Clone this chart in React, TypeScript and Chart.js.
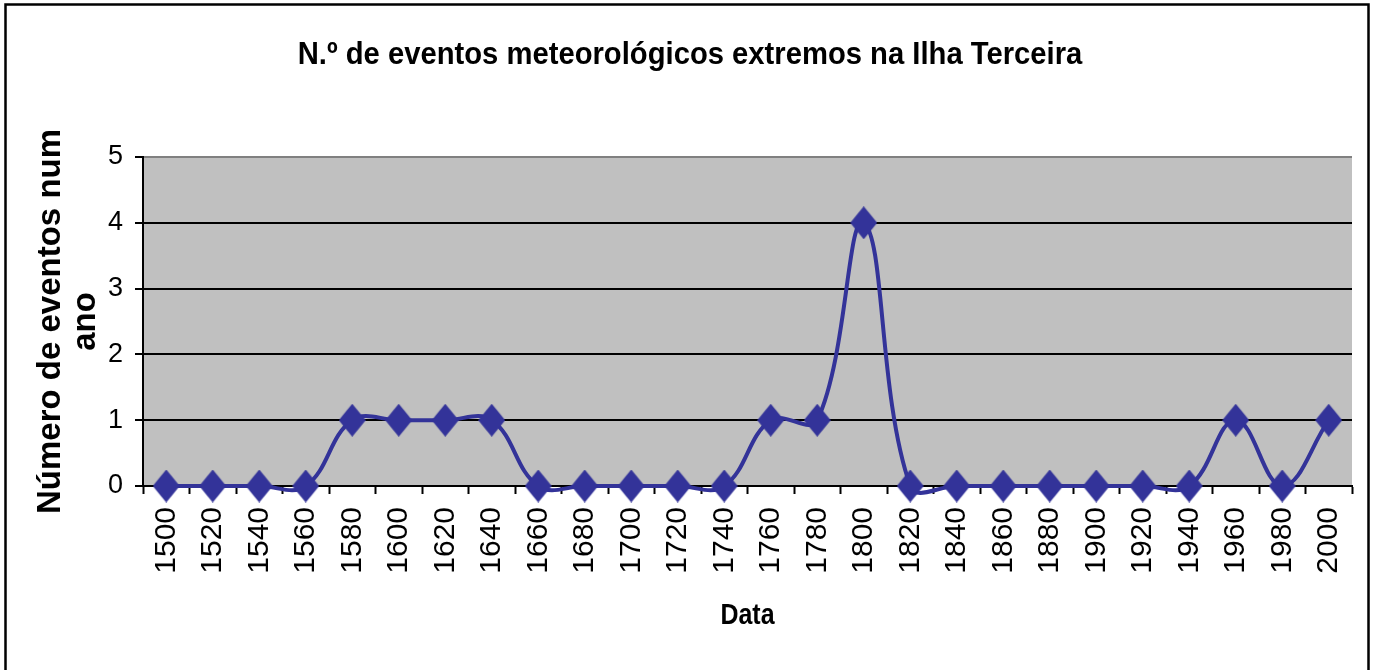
import React, { useEffect, useRef } from "react";
import { Chart, registerables } from "chart.js";

Chart.register(...registerables);

const TITLE = "N.º de eventos meteorológicos extremos na Ilha Terceira";
const Y_TITLE = ["Número de eventos num", "ano"];
const X_TITLE = "Data";

const years = [
  "1500", "1520", "1540", "1560", "1580", "1600", "1620", "1640", "1660",
  "1680", "1700", "1720", "1740", "1760", "1780", "1800", "1820", "1840",
  "1860", "1880", "1900", "1920", "1940", "1960", "1980", "2000",
];
const events = [0, 0, 0, 0, 1, 1, 1, 1, 0, 0, 0, 0, 0, 1, 1, 4, 0, 0, 0, 0, 0, 0, 0, 1, 0, 1];
const yMin = 0;
const yMax = 5;
const yStep = 1;

const LINE_COLOR = "#333399";
const SANS = '"Liberation Sans", Arial, sans-serif';

function makeDiamond(w: number, h: number, color: string): HTMLCanvasElement {
  const c = document.createElement("canvas");
  c.width = w;
  c.height = h;
  const g = c.getContext("2d")!;
  g.fillStyle = color;
  g.beginPath();
  g.moveTo(w / 2, 0);
  g.lineTo(w, h / 2);
  g.lineTo(w / 2, h);
  g.lineTo(0, h / 2);
  g.closePath();
  g.fill();
  return c;
}

function drawScaledText(ctx: CanvasRenderingContext2D, text: string, x: number, y: number, font: string, sx: number) {
  ctx.save();
  ctx.translate(x, y);
  ctx.scale(sx, 1);
  ctx.font = font;
  ctx.fillStyle = "#000";
  ctx.textAlign = "center";
  ctx.textBaseline = "middle";
  ctx.fillText(text, 0, 0);
  ctx.restore();
}

const plotBg = {
  id: "plotBg",
  beforeDraw(chart: any) {
    const { ctx, chartArea } = chart;
    ctx.save();
    ctx.fillStyle = "#C0C0C0";
    ctx.fillRect(chartArea.left, chartArea.top, chartArea.right - chartArea.left, chartArea.bottom - chartArea.top);
    ctx.restore();
  },
};

const textsAndBorder = {
  id: "textsAndBorder",
  afterDraw(chart: any) {
    const { ctx, chartArea } = chart;
    drawScaledText(ctx, TITLE, 690, 55, `bold 32px ${SANS}`, 0.913);
    drawScaledText(ctx, X_TITLE, (chartArea.left + chartArea.right) / 2, 616, `bold 29px ${SANS}`, 0.86);
    ctx.save();
    ctx.strokeStyle = "#000";
    ctx.lineWidth = 2.5;
    ctx.strokeRect(5.5, 4.5, 1363, 700);
    ctx.restore();
  },
};

export default function App() {
  const ref = useRef<HTMLCanvasElement | null>(null);

  useEffect(() => {
    if (!ref.current) return;
    const diamond = makeDiamond(27, 33, LINE_COLOR);
    const chart = new Chart(ref.current, {
      type: "line",
      data: {
        labels: years,
        datasets: [
          {
            data: events,
            borderColor: LINE_COLOR,
            backgroundColor: LINE_COLOR,
            borderWidth: 4,
            tension: 0.4,
            fill: false,
            clip: false as any,
            pointStyle: diamond as any,
            pointRadius: 13,
          },
        ],
      },
      options: {
        animation: false,
        responsive: false,
        devicePixelRatio: 1,
        layout: { padding: { left: 5, right: 23, top: 157, bottom: 0 } },
        elements: { line: { capBezierPoints: false } },
        plugins: {
          legend: { display: false },
          tooltip: { enabled: false },
          title: { display: false },
        },
        scales: {
          x: {
            type: "category",
            offset: true,
            grid: {
              display: true,
              offset: true,
              drawOnChartArea: false,
              drawTicks: true,
              tickLength: 8,
              tickColor: "#000",
              tickWidth: 2,
            },
            border: { display: true, color: "#000", width: 2 },
            ticks: {
              autoSkip: false,
              minRotation: 90,
              maxRotation: 90,
              padding: 13,
              color: "#000",
              font: { family: SANS, size: 30 },
            },
            title: { display: false },
            afterFit: (s: any) => {
              s.height = 184;
              s.paddingLeft = 0;
              s.paddingRight = 0;
            },
          },
          y: {
            min: yMin,
            max: yMax,
            ticks: {
              stepSize: yStep,
              padding: 12,
              color: "#000",
              font: { family: SANS, size: 27 },
            },
            grid: {
              color: (c: any) => (c.tick && c.tick.value === yMax ? "#808080" : "#000"),
              lineWidth: 2,
              tickLength: 8,
              tickColor: "#000",
              tickWidth: 2,
            },
            border: { display: true, color: "#000", width: 2 },
            title: {
              display: true,
              text: Y_TITLE,
              color: "#000",
              font: { family: SANS, size: 33, weight: "bold", lineHeight: 1.06 },
              padding: { top: 28, bottom: 0 },
            },
            afterFit: (s: any) => {
              s.width = 138;
            },
          },
        },
      } as any,
      plugins: [plotBg, textsAndBorder],
    });
    return () => chart.destroy();
  }, []);

  return (
    <div style={{ position: "fixed", left: 0, top: 0, width: 1375, height: 670, background: "#fff" }}>
      <canvas ref={ref} width={1375} height={670} style={{ display: "block" }} />
    </div>
  );
}
